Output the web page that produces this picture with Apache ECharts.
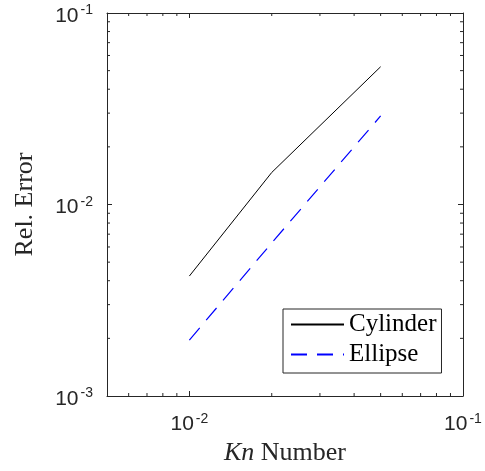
<!DOCTYPE html>
<html>
<head>
<meta charset="utf-8">
<script src="https://cdn.jsdelivr.net/npm/echarts@6/dist/echarts.min.js"></script>
<style>
html, body { margin: 0; padding: 0; background: #fff; }
#chart { width: 485px; height: 471px; }
</style>
</head>
<body>
<div id="chart"></div>
<script>
// Relative error vs. Knudsen number (log-log)
const knNumbers = [0.01, 0.02, 0.05];
const cylinderError = [0.00423, 0.0147, 0.0524];
const ellipseError = [0.00196, 0.0063, 0.0290];
const seriesNames = ['Cylinder', 'Ellipse'];

const xRange = [0.005, 0.1];
const yRange = [0.001, 0.1];
const xMinorTicks = [0.006, 0.007, 0.008, 0.009, 0.02, 0.03, 0.04, 0.05, 0.06, 0.07, 0.08, 0.09];
const yMinorTicks = [0.002, 0.003, 0.004, 0.005, 0.006, 0.007, 0.008, 0.009,
                     0.02, 0.03, 0.04, 0.05, 0.06, 0.07, 0.08, 0.09];

const axisColor = '#262626';
const sansFont = 'Liberation Sans';
const serifFont = 'Liberation Serif';

function pairs(xs, ys) { return xs.map((x, i) => [x, ys[i]]); }

// Only powers of ten get a label, written as 10 with a raised exponent
function powerLabel(v) {
  const e = Math.log10(v);
  const r = Math.round(e);
  if (Math.abs(e - r) > 1e-6) return '';
  return '{b|10}{s|' + r + '}';
}

const labelRich = {
  b: { fontFamily: sansFont, fontSize: 21, color: axisColor, padding: [6, 0, 0, 0] },
  s: { fontFamily: sansFont, fontSize: 14, color: axisColor, verticalAlign: 'top', padding: [4, 0, 0, 2] }
};

function logAxis(range, extra) {
  return Object.assign({
    type: 'log',
    logBase: 10,
    min: range[0],
    max: range[1],
    axisLine: { show: true, onZero: false, lineStyle: { color: axisColor, width: 1 } },
    axisTick: { show: true, inside: true, length: 5, lineStyle: { color: axisColor, width: 1 } },
    minorTick: { show: false },
    splitLine: { show: false },
    minorSplitLine: { show: false }
  }, extra);
}

// Short inward ticks at the minor decades, on both sides of the box
function minorTickSeries(values, horizontal) {
  return {
    type: 'custom',
    silent: true,
    clip: false,
    z: 3,
    data: values.map(v => horizontal ? [v, yRange[0]] : [xRange[0], v]),
    renderItem: function (params, api) {
      const v = horizontal ? api.value(0) : api.value(1);
      const a = horizontal ? api.coord([v, yRange[0]]) : api.coord([xRange[0], v]);
      const b = horizontal ? api.coord([v, yRange[1]]) : api.coord([xRange[1], v]);
      const len = 3;
      const style = { stroke: axisColor, lineWidth: 1 };
      return {
        type: 'group',
        children: horizontal ? [
          { type: 'line', shape: { x1: a[0], y1: a[1], x2: a[0], y2: a[1] - len }, style: style },
          { type: 'line', shape: { x1: b[0], y1: b[1], x2: b[0], y2: b[1] + len }, style: style }
        ] : [
          { type: 'line', shape: { x1: a[0], y1: a[1], x2: a[0] + len, y2: a[1] }, style: style },
          { type: 'line', shape: { x1: b[0], y1: b[1], x2: b[0] - len, y2: b[1] }, style: style }
        ]
      };
    }
  };
}

const chart = echarts.init(document.getElementById('chart'), null, { renderer: 'canvas' });

chart.setOption({
  animation: false,
  backgroundColor: '#fff',
  grid: { left: 107, right: 22, top: 13, bottom: 75, containLabel: false },
  xAxis: [
    logAxis(xRange, {
      position: 'bottom',
      name: '{i|Kn} Number',
      nameLocation: 'middle',
      nameGap: 44,
      nameTextStyle: {
        fontFamily: serifFont, fontSize: 26, color: axisColor,
        rich: { i: { fontFamily: serifFont, fontStyle: 'italic', fontSize: 26, color: axisColor } }
      },
      axisLabel: { show: true, margin: 12, formatter: powerLabel, rich: labelRich, showMinLabel: true, showMaxLabel: true }
    }),
    logAxis(xRange, { position: 'top', axisLabel: { show: false } })
  ],
  yAxis: [
    logAxis(yRange, {
      position: 'left',
      name: 'Rel. Error',
      nameLocation: 'middle',
      nameGap: 69,
      nameTextStyle: { fontFamily: serifFont, fontSize: 26, color: axisColor },
      axisLabel: { show: true, margin: 14, formatter: powerLabel, rich: labelRich, showMinLabel: true, showMaxLabel: true }
    }),
    logAxis(yRange, { position: 'right', axisLabel: { show: false } })
  ],
  legend: {
    data: seriesNames,
    orient: 'vertical',
    left: 283,
    top: 309,
    itemWidth: 53,
    itemHeight: 14,
    itemGap: 5,
    padding: [3, 5, 6, 7],
    borderColor: axisColor,
    borderWidth: 1,
    borderRadius: 0,
    backgroundColor: '#fff',
    // legend samples show only the line, no marker
    itemStyle: { opacity: 0 },
    textStyle: { fontFamily: serifFont, fontSize: 25, color: '#000' }
  },
  series: [
    {
      name: seriesNames[0],
      type: 'line',
      symbol: 'none',
      data: pairs(knNumbers, cylinderError),
      lineStyle: { color: '#000', width: 1 },
      itemStyle: { color: '#000' },
      z: 4
    },
    {
      name: seriesNames[1],
      type: 'line',
      symbol: 'none',
      data: pairs(knNumbers, ellipseError),
      lineStyle: { color: '#0000ff', width: 1.2, type: [16, 10] },
      itemStyle: { color: '#0000ff' },
      z: 4
    },
    minorTickSeries(xMinorTicks, true),
    minorTickSeries(yMinorTicks, false)
  ]
});
</script>
</body>
</html>
